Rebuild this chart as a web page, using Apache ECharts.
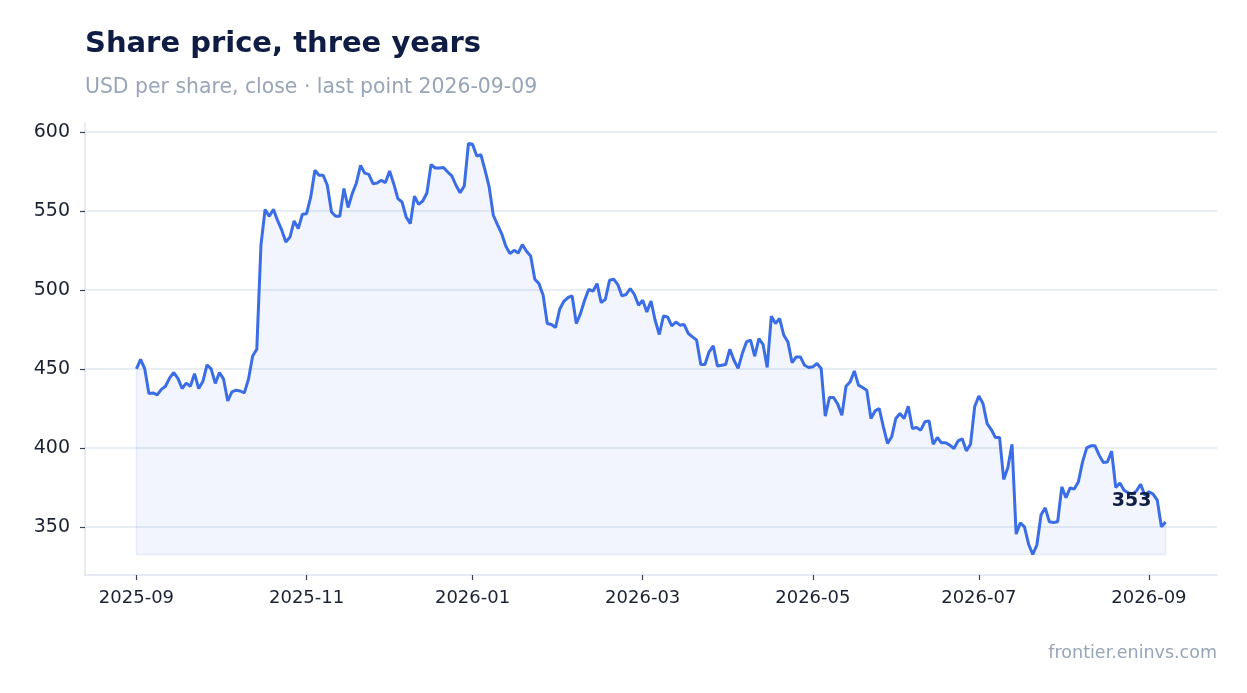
<!DOCTYPE html>
<html>
<head>
<meta charset="utf-8">
<title>Share price</title>
<script src="https://cdn.jsdelivr.net/npm/echarts@6/dist/echarts.min.js"></script>
<style>
  html, body { margin: 0; padding: 0; background: #ffffff; }
  #chart { width: 1247px; height: 693px; }
</style>
</head>
<body>
<div id="chart"></div>
<script>
// closing prices, one point per trading day
var prices = [
    450, 456, 450, 434.4, 434.8, 433.6, 437, 439, 444.3, 447.7, 444, 437.6, 441, 439, 447, 437.6, 442, 452.5, 450, 440.8,
    447.7, 443.5, 429.7, 435.4, 436.5, 436, 434.8, 443.5, 458.2, 462.5, 528.3, 551, 546.6, 551, 544,
    538, 530.4, 533.5, 543.7, 538.9, 548, 548.3, 558.9, 575.8, 572.6, 572.6, 566.3, 549.4, 546.7, 546.7, 564.2, 552.2,
    561, 567.7, 578.9, 574, 573.2, 567.3, 567.7, 569.4, 568, 575.3, 567.3, 557.8, 555.7, 546.2, 542, 559.3, 554.2, 556.3, 561.4,
    579.4, 577.2, 577.2, 577.5, 574.7, 572.2, 566.3, 561.6, 565.8, 592.7, 592.2, 584.8, 585.7, 575.8, 565.2, 547.3, 541.4,
    535.7, 527.8, 523, 525.1, 523.4, 528.7, 524.5, 521.5, 506.8, 504, 496.7, 478.7, 478.1, 476.2, 487.8, 492.8, 495.2, 496.2, 478.7, 485,
    493.5, 500.4, 499.2, 504, 492, 494.1, 506.1, 506.8, 503.4, 496.2, 497.1, 500.9, 497.1, 490.3, 493.5, 486.1, 492.9, 480.8,
    471.8, 483.5, 482.9, 477.2, 479.7, 477.7, 478.1, 472.4, 470.3, 468.2, 452.8, 452.8, 460.8, 464.6, 451.9, 452.3, 452.8, 462.5,
    455.5, 450.3, 459.7, 467.1, 468.2, 458, 469.2, 465.6, 450.9, 483.4, 478.7, 481.9, 471.3, 467.1, 453.9, 457.6, 457.6, 452.3,
    450.9, 451.3, 453.4, 450.3, 420.1, 431.9, 431.9, 427.7, 420.7, 439, 441.8, 448.7, 439.7, 438.2, 436.5, 418.6, 423.4, 424.9, 413.3,
    402.8, 407, 418.6, 421.8, 418.6, 426.4, 412.3, 412.9, 411.2, 416.5, 417.1, 402.3, 406.6, 403.2, 403.2, 401.7, 399.6, 404.4,
    405.7, 398.1, 402.3, 426, 432.8, 428.1, 415.4, 411.6, 406.6, 406.6, 380, 387.6, 402.3, 345.4, 352.5, 350, 339,
    332.5, 338.6, 357.6, 362, 353.2, 352.8, 353.2, 375.3, 368.4, 374.7, 373.9, 378.5, 391.1, 400, 401.3, 401.3, 395.4,
    390.8, 391.1, 397.9, 374.9, 377.8, 373.2, 371.5, 370.7, 372.8, 377, 370, 372.2, 370.7, 366.9, 350, 353
];
// first trading day of each labelled month (point index) and its label
var tickIndex = [0, 41, 81, 122, 163, 203, 244];
var tickLabels = ['2025-09', '2025-11', '2026-01', '2026-03', '2026-05', '2026-07', '2026-09'];
var yTicks = [350, 400, 450, 500, 550, 600];

var FONT = 'DejaVu Sans';
var lastIdx = prices.length - 1;
var lowest = Math.min.apply(null, prices);

// 5% padding on each side, like the original
function padMin(e) { return e.min - (e.max - e.min) * 0.05; }
function padMax(e) { return e.max + (e.max - e.min) * 0.05; }

var chart = echarts.init(document.getElementById('chart'), null, { renderer: 'canvas' });

var option = {
    backgroundColor: '#ffffff',
    animation: false,
    title: [{
        text: 'Share price, three years',
        left: 85, top: 30, padding: 0,
        textStyle: { fontFamily: FONT, fontSize: 29, fontWeight: 'bold', color: '#0f1d45' }
    }, {
        text: 'USD per share, close · last point 2026-09-09',
        left: 85, top: 78, padding: 0,
        textStyle: { fontFamily: FONT, fontSize: 20.4, fontWeight: 'normal', color: '#98a4b8' }
    }, {
        text: 'frontier.eninvs.com',
        right: 30, top: 644, padding: 0,
        textStyle: { fontFamily: FONT, fontSize: 17.5, fontWeight: 'normal', color: '#98a4b8' }
    }],
    grid: { left: 85, right: 30, top: 123, bottom: 118, containLabel: false },
    xAxis: {
        type: 'value',
        min: padMin,
        max: padMax,
        axisLine: { show: true, onZero: false, lineStyle: { color: '#dfe4ee', width: 1.5 } },
        axisTick: { show: true, length: 5, customValues: tickIndex, lineStyle: { color: '#3a4150', width: 1.2 } },
        axisLabel: {
            customValues: tickIndex,
            margin: 14,
            fontFamily: FONT, fontSize: 18, color: '#1b2233',
            formatter: function (v) {
                var k = tickIndex.indexOf(Math.round(v));
                return k >= 0 ? tickLabels[k] : '';
            }
        },
        splitLine: { show: false }
    },
    yAxis: {
        type: 'value',
        min: padMin,
        max: padMax,
        axisLine: { show: true, onZero: false, lineStyle: { color: '#dfe4ee', width: 1.5 } },
        axisTick: { show: true, length: 5, customValues: yTicks, lineStyle: { color: '#3a4150', width: 1.2 } },
        axisLabel: { customValues: yTicks, margin: 15, fontFamily: FONT, fontSize: 19, color: '#1b2233' },
        splitLine: { show: true, lineStyle: { color: '#e2e7f0', width: 1.5 } }
    },
    series: [{
        // faint outline of the shaded area
        type: 'line',
        silent: true,
        symbol: 'none',
        data: [[lastIdx, prices[lastIdx]], [lastIdx, lowest], [0, lowest], [0, prices[0]]],
        lineStyle: { color: 'rgba(59,111,230,0.10)', width: 1.5 },
        z: 1
    }, {
        type: 'line',
        symbol: 'none',
        data: prices.map(function (v, i) { return [i, v]; }),
        lineStyle: { color: '#3a6de6', width: 3 },
        areaStyle: { color: 'rgba(59,111,230,0.095)', origin: lowest },
        markPoint: {
            symbol: 'circle',
            symbolSize: 1,
            itemStyle: { color: 'rgba(0,0,0,0)' },
            label: {
                show: true,
                position: 'inside',
                offset: [-34, -21],
                fontFamily: FONT, fontSize: 19, fontWeight: 'bold', color: '#0f1d45',
                formatter: String(Math.round(prices[lastIdx]))
            },
            data: [{ coord: [lastIdx, prices[lastIdx]] }]
        },
        z: 3
    }]
};

chart.setOption(option);
</script>
</body>
</html>
